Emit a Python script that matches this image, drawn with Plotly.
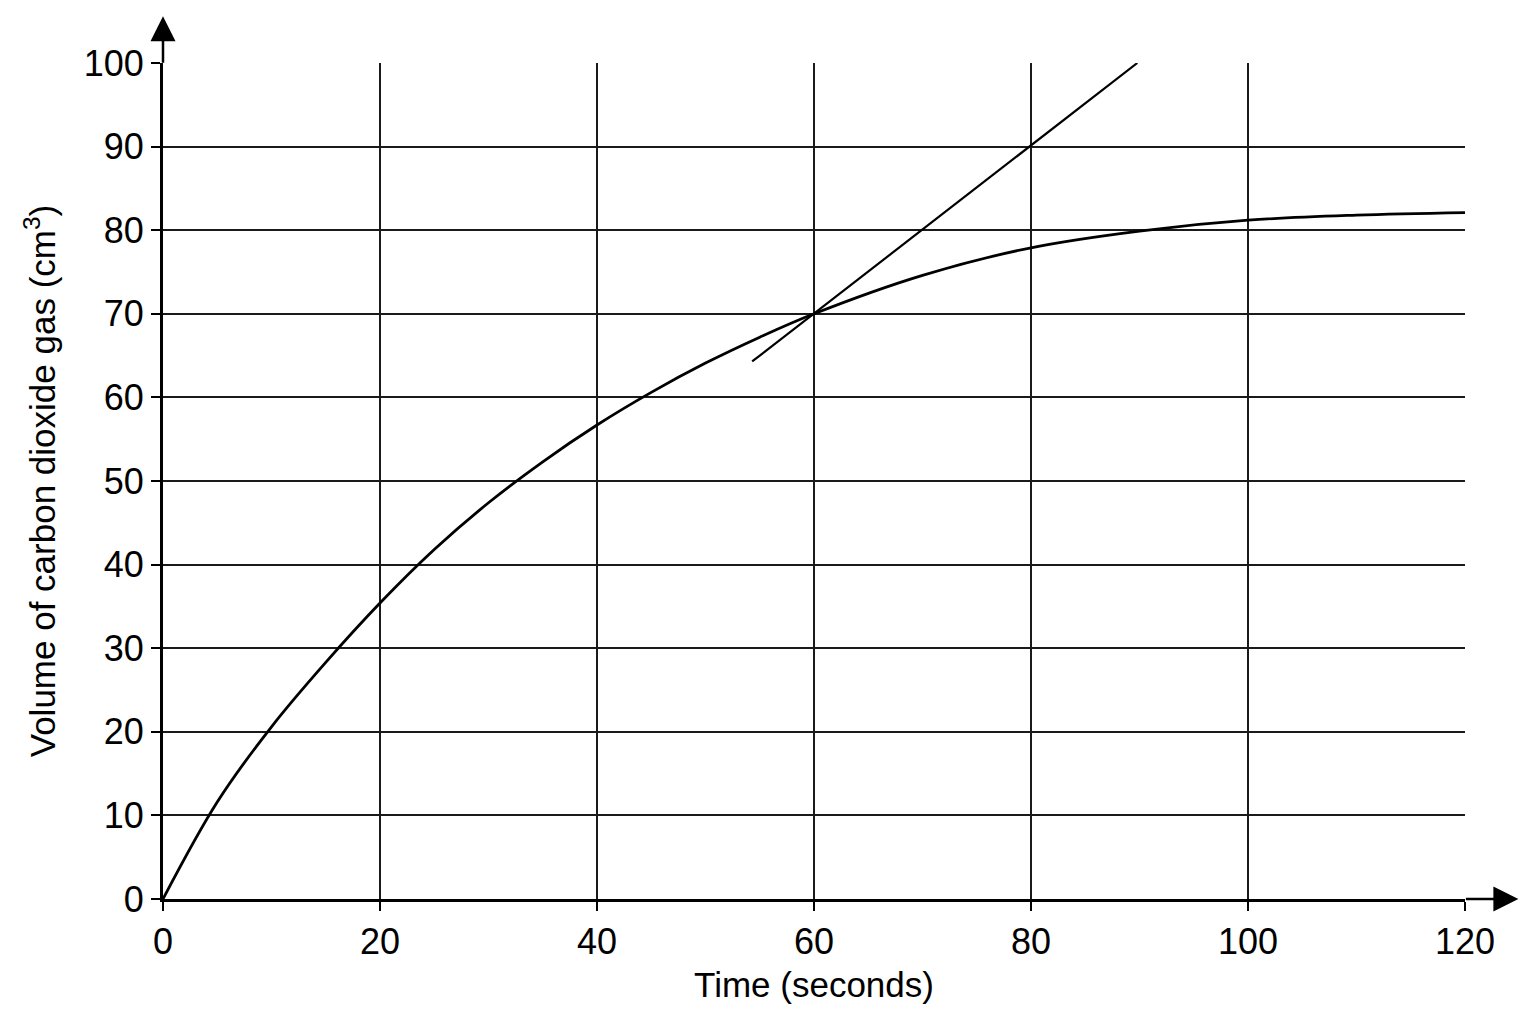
import plotly.graph_objects as go

# curve (time in s, volume in cm3)
time_s = [0, 5, 10, 15, 20, 25, 30, 35, 40, 45, 50, 55, 60, 70, 80, 90, 100, 110, 120]
volume = [0, 11.6, 20.6, 28.3, 35.4, 41.8, 47.4, 52.3, 56.7, 60.6, 64.1, 67.2, 70.0,
          74.6, 77.9, 79.9, 81.2, 81.8, 82.1]

# tangent drawn at t = 60 s
tangent_t = [54.3, 89.8]
tangent_v = [64.3, 100]

x_ticks = [0, 20, 40, 60, 80, 100, 120]
y_ticks = [0, 10, 20, 30, 40, 50, 60, 70, 80, 90, 100]

fnt = "Liberation Sans, Arial, sans-serif"

fig = go.Figure()
fig.add_trace(go.Scatter(x=time_s, y=volume, mode="lines",
                         line=dict(color="black", width=2.8, shape="spline"),
                         showlegend=False))
fig.add_trace(go.Scatter(x=tangent_t, y=tangent_v, mode="lines",
                         line=dict(color="black", width=2.2),
                         showlegend=False))

axis_common = dict(
    showgrid=True, gridcolor="#1a1a1a", gridwidth=1.5,
    showline=True, linecolor="black", linewidth=2.8,
    ticks="outside", ticklen=9, tickwidth=1.5, tickcolor="black",
    zeroline=False,
    tickfont=dict(family=fnt, size=36, color="black"),
)

fig.update_xaxes(range=[0, 120], tickvals=x_ticks,
                 title=dict(text="Time (seconds)", font=dict(family=fnt, size=35, color="black"),
                            standoff=12),
                 **axis_common)
fig.update_yaxes(range=[0, 100], tickvals=y_ticks,
                 title=dict(text="Volume of carbon dioxide gas (cm<sup>3</sup>)",
                            font=dict(family=fnt, size=35, color="black"), standoff=18),
                 **axis_common)

# arrowheads on the axes
fig.add_annotation(x=0, y=1.056, xref="x", yref="paper", ax=0, ay=48,
                   showarrow=True, arrowhead=2, arrowsize=2, arrowwidth=2.5,
                   arrowcolor="black", text="")
fig.add_annotation(x=1.041, y=0, xref="paper", yref="y", ax=-54, ay=0,
                   showarrow=True, arrowhead=2, arrowsize=2, arrowwidth=2.5,
                   arrowcolor="black", text="")

fig.update_layout(
    width=1536, height=1024,
    margin=dict(l=155, r=79, t=55, b=133),
    plot_bgcolor="white", paper_bgcolor="white",
    font=dict(family=fnt, color="black"),
)

fig.write_html("out.html")
